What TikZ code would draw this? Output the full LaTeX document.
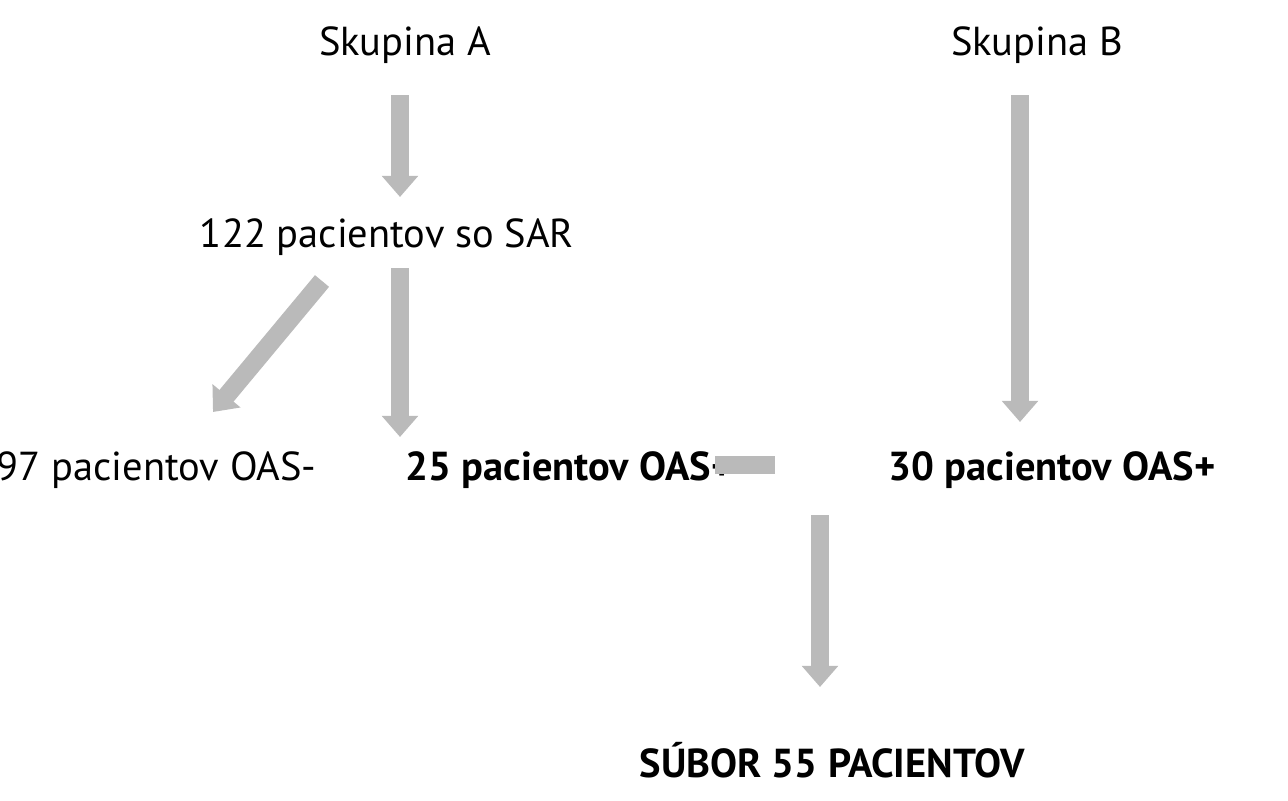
\documentclass[tikz,border=0pt]{standalone}
\usepackage{fontspec}
\setmainfont{PT Sans}
\usetikzlibrary{arrows.meta}
\colorlet{arrowgray}{black!27}
\tikzset{
  lbl/.style={font=\fontsize{11.5}{13}\selectfont, inner sep=0pt},
  boldlbl/.style={lbl, font=\fontsize{11.5}{13}\selectfont\bfseries},
  fat/.style={arrowgray, line width=5.2pt, -{Triangle[length=6pt,width=10pt]}}
}
\begin{document}
\begin{tikzpicture}[x=0.01cm,y=-0.01cm]
      \useasboundingbox (0,0) rectangle (1288,800);

      \node[lbl] (grpa) at (405,45) {Skupina A};
      \node[lbl] (grpb) at (1037,45) {Skupina B};
      \node[lbl] (sar) at (387,237) {122 pacientov so SAR};
      \node[lbl, anchor=west] (oasneg) at (-4,470) {97 pacientov OAS-};
      \node[boldlbl, anchor=west] (oasa) at (405,470) {25 pacientov OAS+};
      \node[boldlbl, anchor=west] (oasb) at (888,470) {30 pacientov OAS+};
      \node[boldlbl] (subor) at (832,760) {SÚBOR 55 PACIENTOV};

      % arrow ends
      \coordinate (a1s) at (400,95);  \coordinate (a1e) at (400,197);
      \coordinate (a2s) at (400,268); \coordinate (a2e) at (400,437);
      \coordinate (a3s) at (322,281); \coordinate (a3e) at (213,412);
      \coordinate (b1s) at (1020,95); \coordinate (b1e) at (1020,422);
      \coordinate (p1s) at (820,515); \coordinate (p1e) at (820,687);

      \draw[fat] (a1s) -- (a1e);
      \draw[fat] (a2s) -- (a2e);
      \draw[fat] (a3s) -- (a3e);
      \draw[fat] (b1s) -- (b1e);
      \draw[fat] (p1s) -- (p1e);

      % plus sign
      \coordinate (plus) at (820,465);
      \fill[arrowgray] ([xshift=-30]plus) ++(0,-9) rectangle ++(60,18);
      \fill[arrowgray] ([yshift=-30]plus) ++(-9,0) rectangle ++(18,60);
\end{tikzpicture}
\end{document}
